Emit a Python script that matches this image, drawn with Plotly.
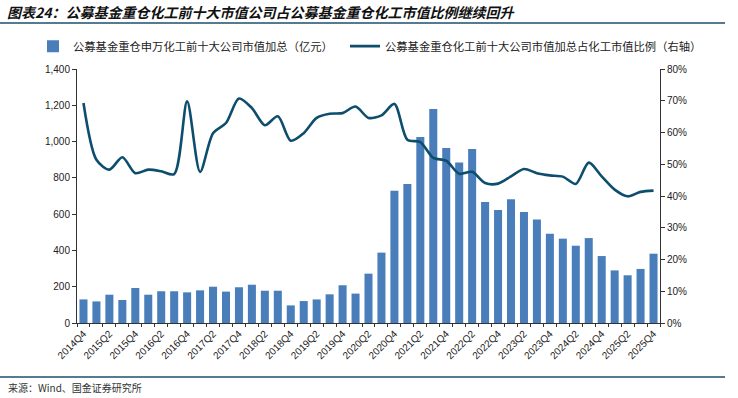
import plotly.graph_objects as go

quarters = []
for y in range(2014, 2026):
    for q in range(1, 5):
        if y == 2014 and q < 4:
            continue
        quarters.append(f"{y}Q{q}")

market_value = [130, 119, 156, 127, 193, 156, 175, 175, 169, 180, 200, 173, 197, 211, 178, 178,
                97, 121, 130, 158, 208, 162, 272, 388, 729, 766, 1025, 1180, 965, 884, 959,
                667, 623, 682, 612, 570, 492, 465, 426, 468, 369, 290, 263, 298, 382]
ratio_pct = [69.3, 51.4, 48.3, 52.2, 47.2, 48.3, 47.8, 46.9, 69.8, 47.6, 59.8, 63.0, 70.7, 67.7,
             62.3, 65.1, 57.4, 59.8, 64.6, 65.9, 66.1, 68.2, 64.6, 65.4, 69.0, 57.7, 57.0, 52.0,
             51.1, 47.0, 47.6, 44.1, 43.9, 46.2, 48.5, 47.2, 46.5, 46.1, 43.8, 50.5, 46.2, 42.0,
             39.9, 41.3, 41.7]
tick_labels = [q if i % 2 == 0 else "" for i, q in enumerate(quarters)]

bar_name = "公募基金重仓申万化工前十大公司市值加总（亿元）"
line_name = "公募基金重仓化工前十大公司市值加总占化工市值比例（右轴）"
title_text = "图表24：公募基金重仓化工前十大市值公司占公募基金重仓化工市值比例继续回升"
source_text = "来源：Wind、国金证券研究所"

cjk = "Noto Sans CJK SC"
latin = "Liberation Sans, Arial, sans-serif"

fig = go.Figure()
fig.add_trace(go.Bar(x=quarters, y=market_value, name=bar_name,
                     marker=dict(color="#4a7ebb", line=dict(width=0)), yaxis="y",
                     legend="legend"))
fig.add_trace(go.Scatter(x=quarters, y=ratio_pct, name=line_name, mode="lines",
                         line=dict(color="#0d4d6e", width=2.6, shape="spline", smoothing=0.8),
                         yaxis="y2", legend="legend2"))

leg_common = dict(orientation="h", xanchor="left", y=1.09, yanchor="middle",
                  font=dict(family=cjk, size=11.3, color="#222"), itemwidth=30,
                  bgcolor="rgba(0,0,0,0)")

fig.update_layout(
    width=738, height=398,
    margin=dict(l=77, r=78, t=69, b=75, autoexpand=False),
    paper_bgcolor="white", plot_bgcolor="white",
    bargap=0.38,
    showlegend=True,
    legend=dict(x=(33 - 77) / 583, **leg_common),
    legend2=dict(x=(345 - 77) / 583, **leg_common),
    xaxis=dict(type="category", tickmode="array", tickvals=quarters, ticktext=tick_labels,
               tickson="boundaries",
               tickangle=-45, tickfont=dict(family=latin, size=10, color="#222"),
               showline=True, linecolor="#333", linewidth=1, showgrid=False,
               ticks="outside", ticklen=3, tickcolor="#333", automargin=False),
    yaxis=dict(range=[0, 1400], dtick=200, tickformat=",", showgrid=False,
               showline=True, linecolor="#333", linewidth=1, ticks="outside", ticklen=4,
               tickcolor="#333", tickfont=dict(family=latin, size=10, color="#222"),
               zeroline=False, automargin=False),
    yaxis2=dict(range=[0, 80], dtick=10, ticksuffix="%", overlaying="y", side="right",
                showgrid=False, showline=True, linecolor="#333", linewidth=1, ticks="outside",
                ticklen=4, tickcolor="#333", tickfont=dict(family=latin, size=10, color="#222"),
                zeroline=False, automargin=False),
)

fig.add_annotation(text=f"<b><i>{title_text}</i></b>", xref="paper", yref="paper",
                   x=(5 - 77) / 583, y=(323 - 12) / 254, xanchor="left", yanchor="middle",
                   showarrow=False, font=dict(family=cjk, size=14, color="#111"))
fig.add_annotation(text=source_text, xref="paper", yref="paper",
                   x=(6 - 77) / 583, y=(323 - 387) / 254, xanchor="left", yanchor="middle",
                   showarrow=False, font=dict(family=cjk, size=10, color="#333"))
for yy in (23, 377):
    fig.add_shape(type="line", xref="paper", yref="paper",
                  x0=(0 - 77) / 583, x1=(725 - 77) / 583,
                  y0=(323 - yy) / 254, y1=(323 - yy) / 254,
                  line=dict(color="#1f4e6b", width=1.5))

fig.write_html("out.html", config={"displayModeBar": False},
               post_script="document.body.style.margin='0';document.body.style.overflow='hidden';")
